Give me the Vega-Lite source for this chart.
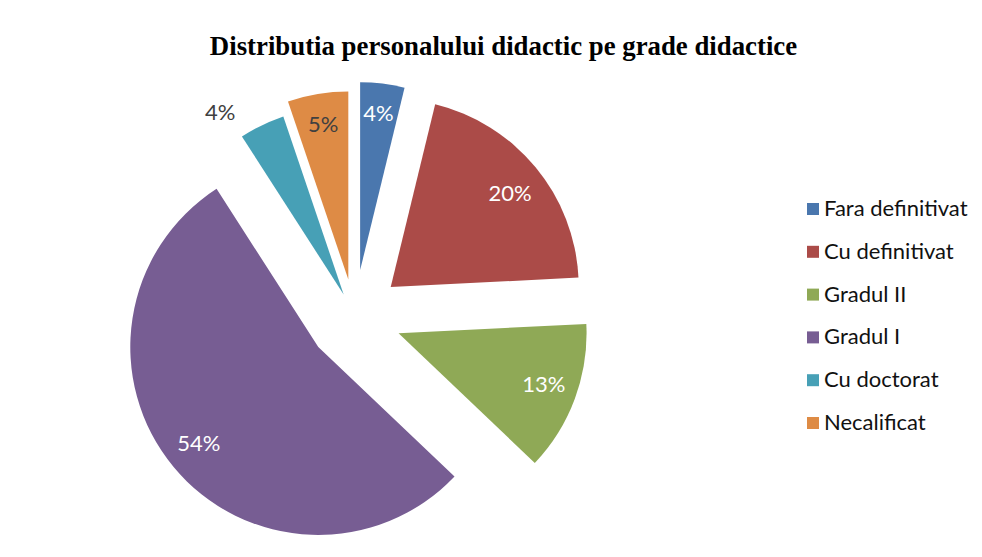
{
  "$schema": "https://vega.github.io/schema/vega-lite/v6.json",
  "width": 689,
  "height": 556,
  "autosize": {"type": "none"},
  "padding": {"left": 10, "top": 39, "right": 283, "bottom": 0},
  "background": "white",
  "title": {
    "text": "Distributia personalului didactic pe grade didactice",
    "font": "Liberation Serif",
    "fontSize": 26.8,
    "fontWeight": "bold",
    "color": "black",
    "anchor": "middle",
    "frame": "group",
    "offset": -43,
    "baseline": "alphabetic",
    "dx": 149,
    "limit": 0
  },
  "data": {
    "values": [
      {"category": "Fara definitivat", "value": 3.8},
      {"category": "Cu definitivat", "value": 20.4},
      {"category": "Gradul II", "value": 12.9},
      {"category": "Gradul I", "value": 53.8},
      {"category": "Cu doctorat", "value": 3.9},
      {"category": "Necalificat", "value": 5.2}
    ]
  },
  "transform": [
    {"window": [{"op": "row_number", "as": "idx"}]},
    {"calculate": "format(datum.value, '.0f') + '%'", "as": "label"}
  ],
  "encoding": {
    "theta": {"field": "value", "type": "quantitative", "stack": true},
    "order": {"field": "idx", "type": "quantitative"},
    "color": {
      "field": "category",
      "type": "nominal",
      "scale": {
        "domain": ["Fara definitivat", "Cu definitivat", "Gradul II", "Gradul I", "Cu doctorat", "Necalificat"],
        "range": ["#4a77ae", "#ab4b48", "#8fa956", "#775d93", "#47a0b6", "#de8b45"]
      },
      "legend": {
        "orient": "none",
        "legendX": 792,
        "legendY": 159,
        "title": null,
        "symbolType": "square",
        "symbolSize": 144,
        "symbolStrokeWidth": 0,
        "labelFont": "Lato",
        "labelFontSize": 22,
        "labelColor": "#111",
        "labelOffset": 0,
        "rowPadding": 20.8,
        "padding": 0
      }
    }
  },
  "layer": [
    {
      "mark": {
        "type": "arc",
        "radius": 188,
        "xOffset": {"expr": "(datum.category=='Cu doctorat'?25:datum.category=='Necalificat'?38:47)*sin(scale('theta',(datum.value_start+datum.value_end)/2))"},
        "yOffset": {"expr": "-(datum.category=='Cu doctorat'?25:datum.category=='Necalificat'?38:47)*cos(scale('theta',(datum.value_start+datum.value_end)/2))"}
      }
    },
    {
      "mark": {
        "type": "text",
        "font": "Lato",
        "fontSize": 22,
        "baseline": "middle",
        "align": "center",
        "radius": {"expr": "datum.category=='Cu doctorat' ? 215 : 155"},
        "dx": {"expr": "(datum.category=='Cu doctorat'?25:datum.category=='Necalificat'?38:47)*sin(scale('theta',(datum.value_start+datum.value_end)/2)) + (datum.category=='Cu doctorat' ? -30 : 0)"},
        "dy": {"expr": "-(datum.category=='Cu doctorat'?25:datum.category=='Necalificat'?38:47)*cos(scale('theta',(datum.value_start+datum.value_end)/2)) + (datum.category=='Cu doctorat' ? 12 : datum.category=='Cu definitivat' ? 6 : -2)"},
        "fill": {"expr": "(datum.category=='Cu doctorat' || datum.category=='Necalificat') ? '#404040' : 'white'"}
      },
      "encoding": {
        "text": {"field": "label", "type": "nominal"},
        "color": {"value": null}
      }
    }
  ],
  "config": {
    "view": {"stroke": null}
  }
}
